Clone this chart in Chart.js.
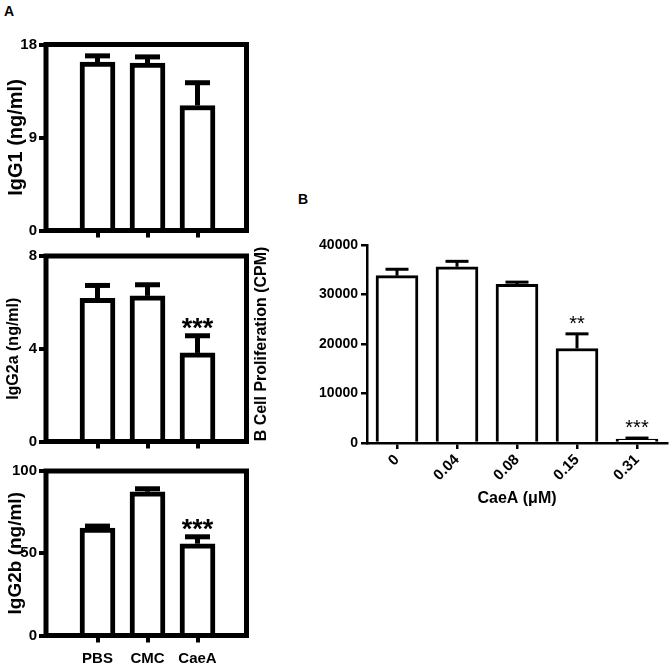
<!DOCTYPE html>
<html>
<head>
<meta charset="utf-8">
<script src="https://cdn.jsdelivr.net/npm/chart.js@4/dist/chart.umd.min.js"></script>
<style>
  body { margin: 0; background: #fff; }
  #wrap { position: relative; width: 669px; height: 666px; font-family: 'Liberation Sans', Arial, sans-serif; }
  canvas { position: absolute; }
  .panel { position: absolute; font-weight: bold; font-size: 14px; line-height: 14px; }
</style>
</head>
<body>
<div id="wrap">
  <div class="panel" style="left:4px;top:4px">A</div>
  <div class="panel" style="left:298px;top:192px">B</div>
  <canvas id="igg1" width="262" height="245" style="left:0;top:0"></canvas>
  <canvas id="igg2a" width="262" height="212" style="left:0;top:245px"></canvas>
  <canvas id="igg2b" width="262" height="209" style="left:0;top:457px"></canvas>
  <canvas id="prolif" width="419" height="332" style="left:250px;top:180px"></canvas>
</div>
<script>
// panel A - serum Ig levels
const groupsA = ['PBS', 'CMC', 'CaeA'];
const igg1Mean = [16.3, 16.2, 12.1];
const igg1Err = [0.6, 0.6, 2.2];
const igg1Sig = ['', '', ''];
const igg1Ticks = [0, 9, 18];

const igg2aMean = [6.17, 6.28, 3.82];
const igg2aErr = [0.56, 0.48, 0.74];
const igg2aSig = ['', '', '***'];
const igg2aTicks = [0, 4, 8];

const igg2bMean = [65.3, 87.4, 55.8];
const igg2bErr = [1.2, 1.8, 4.2];
const igg2bSig = ['', '', '***'];
const igg2bTicks = [0, 50, 100];

// panel B - B cell proliferation
const doses = ['0', '0.04', '0.08', '0.15', '0.31'];
const prolifMean = [33800, 35600, 32050, 19100, 800];
const prolifErr = [1300, 1100, 450, 2950, 200];
const prolifSig = ['', '', '', '**', '***'];
const prolifTicks = [0, 10000, 20000, 30000, 40000];

Chart.defaults.font.family = "'Liberation Sans', Arial, sans-serif";
Chart.defaults.color = '#000';

// thick box round the plot area
const framePlugin = {
  id: 'frame',
  afterDatasetsDraw(chart, args, opts) {
    const a = chart.chartArea, ctx = chart.ctx;
    ctx.save();
    ctx.lineWidth = opts.width;
    ctx.strokeStyle = '#000';
    ctx.strokeRect(a.left, a.top, a.right - a.left, a.bottom - a.top);
    ctx.restore();
  }
};

// upward error bars + significance stars
const errPlugin = {
  id: 'errBars',
  afterDatasetsDraw(chart, args, opts) {
    const ctx = chart.ctx, meta = chart.getDatasetMeta(0), ys = chart.scales.y;
    const means = chart.data.datasets[0].data.map(d => (typeof d === 'object' ? d.y : d));
    ctx.save();
    ctx.strokeStyle = '#000';
    ctx.fillStyle = '#000';
    meta.data.forEach((bar, i) => {
      const capY = ys.getPixelForValue(means[i] + opts.err[i]);
      ctx.lineWidth = opts.stem;
      ctx.beginPath();
      ctx.moveTo(bar.x, bar.y);
      ctx.lineTo(bar.x, capY);
      ctx.stroke();
      ctx.beginPath();
      ctx.moveTo(bar.x - opts.cap / 2, capY);
      ctx.lineTo(bar.x + opts.cap / 2, capY);
      ctx.stroke();
      const s = opts.sig[i];
      if (s) {
        ctx.font = opts.font;
        ctx.textAlign = 'center';
        ctx.textBaseline = 'alphabetic';
        const m = ctx.measureText(s);
        const cy = capY - opts.gap;
        ctx.fillText(s, bar.x, cy + (m.actualBoundingBoxAscent - m.actualBoundingBoxDescent) / 2);
      }
    });
    ctx.restore();
  }
};

function makeIg(id, means, errs, sig, ticks, title, o) {
  return new Chart(document.getElementById(id), {
    type: 'bar',
    data: {
      datasets: [{
        data: means.map((m, i) => ({ x: i, y: m })),
        backgroundColor: '#fff',
        borderColor: '#000',
        borderWidth: 5,
        barThickness: 35
      }]
    },
    options: {
      responsive: false,
      animation: false,
      layout: { padding: { top: o.padTop, right: 15.5, left: 0, bottom: 0 } },
      plugins: {
        legend: { display: false },
        tooltip: { enabled: false },
        frame: { width: 5 },
        errBars: { err: errs, sig: sig, stem: 5, cap: 25, font: "bold 27px 'Liberation Sans', Arial", gap: 12 }
      },
      scales: {
        x: {
          type: 'linear', min: -1.03, max: 2.98, offset: false,
          afterBuildTicks: s => { s.ticks = groupsA.map((g, i) => ({ value: i })); },
          afterFit: s => { s.height = o.xHeight; },
          grid: { display: true, drawOnChartArea: false, drawTicks: true, tickLength: 7, lineWidth: 4, color: '#000', offset: false },
          border: { display: false },
          ticks: {
            display: o.showLabels, padding: 7, autoSkip: false, maxRotation: 0,
            font: { weight: 'bold', size: 15 },
            callback: v => groupsA[v]
          }
        },
        y: {
          min: 0, max: ticks[ticks.length - 1],
          afterBuildTicks: s => { s.ticks = ticks.map(v => ({ value: v })); },
          afterFit: s => { s.width = 46; },
          grid: { display: true, drawOnChartArea: false, drawTicks: true, tickLength: 7, lineWidth: 4, color: '#000' },
          border: { display: false },
          ticks: { padding: 2, font: o.tickFont },
          title: { display: true, text: title, font: { weight: 'bold', size: o.titleSize }, padding: { top: 4, bottom: 0 } }
        }
      }
    },
    plugins: [framePlugin, errPlugin]
  });
}

const narrowTick = { family: "'Liberation Sans Narrow', 'Liberation Sans', Arial", weight: 'bold', size: 15 };

makeIg('igg1', igg1Mean, igg1Err, igg1Sig, igg1Ticks, 'IgG1 (ng/ml)',
  { padTop: 44.5, xHeight: 14.5, showLabels: false, tickFont: narrowTick, titleSize: 20 });
makeIg('igg2a', igg2aMean, igg2aErr, igg2aSig, igg2aTicks, 'IgG2a (ng/ml)',
  { padTop: 9.5, xHeight: 15.5, showLabels: false, tickFont: narrowTick, titleSize: 16 });
makeIg('igg2b', igg2bMean, igg2bErr, igg2bSig, igg2bTicks, 'IgG2b (ng/ml)',
  { padTop: 14, xHeight: 30.5, showLabels: true, tickFont: { weight: 'bold', size: 15 }, titleSize: 19 });

new Chart(document.getElementById('prolif'), {
  type: 'bar',
  data: {
    labels: doses,
    datasets: [{
      data: prolifMean,
      backgroundColor: '#fff',
      borderColor: '#000',
      borderWidth: 3,
      barThickness: 42
    }]
  },
  options: {
    responsive: false,
    animation: false,
    layout: { padding: { top: 65, right: 2, left: 0, bottom: 0 } },
    plugins: {
      legend: { display: false },
      tooltip: { enabled: false },
      errBars: { err: prolifErr, sig: prolifSig, stem: 3, cap: 23, font: "20px 'Liberation Sans', Arial", gap: 14 }
    },
    scales: {
      x: {
        afterFit: s => { s.height = 69; },
        grid: { display: true, drawOnChartArea: false, drawTicks: true, tickLength: 6, lineWidth: 2.5, color: '#000', offset: false },
        border: { display: true, width: 2.5, color: '#000' },
        ticks: { minRotation: 45, maxRotation: 45, padding: 2, font: { weight: 'bold', size: 15 } },
        title: { display: true, text: 'CaeA (\u03bcM)', font: { weight: 'bold', size: 16 }, padding: { top: 0, bottom: 4 } }
      },
      y: {
        min: 0, max: 40000,
        afterBuildTicks: s => { s.ticks = prolifTicks.map(v => ({ value: v })); },
        afterFit: s => { s.width = 117; },
        grid: { display: true, drawOnChartArea: false, drawTicks: true, tickLength: 6, lineWidth: 2.5, color: '#000' },
        border: { display: true, width: 2.5, color: '#000' },
        ticks: { padding: 3, font: { weight: 'bold', size: 14 }, callback: v => String(v) },
        title: { display: true, text: 'B Cell Proliferation (CPM)', font: { weight: 'bold', size: 16 }, padding: { top: 2, bottom: 0 } }
      }
    }
  },
  plugins: [errPlugin]
});
</script>
</body>
</html>
